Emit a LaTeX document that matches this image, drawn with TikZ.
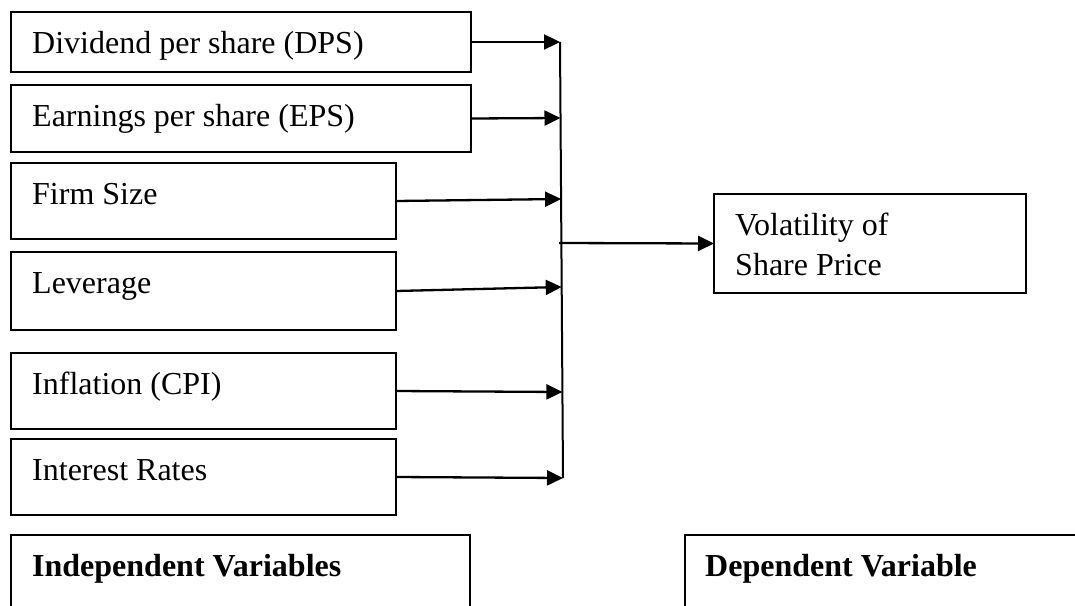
\documentclass[tikz,border=0pt]{standalone}
\usepackage{fontspec}
\setmainfont{Liberation Serif}
\usetikzlibrary{arrows.meta}
\begin{document}
\begin{tikzpicture}[x=1pt,y=-1pt,
  box/.style={draw, line width=1.8pt, rectangle, inner sep=0pt, outer sep=0pt, anchor=north west},
  lbl/.style={font=\fontsize{32}{40}\selectfont, inner sep=0pt, anchor=base west},
  blbl/.style={lbl, font=\fontsize{32}{40}\selectfont\bfseries},
  conn/.style={line width=2.3pt, -{Triangle[length=16pt,width=15pt]}},
  bus/.style={line width=2pt},
  ]
\clip (0,0) rectangle (1075,605);
\useasboundingbox (0,0) rectangle (1075,605);

% boxes
\node[box, minimum width=460pt, minimum height=60pt] (dps) at (11,12) {};
\node[box, minimum width=460pt, minimum height=67pt] (eps) at (11,85) {};
\node[box, minimum width=385pt, minimum height=76pt] (firm) at (11,163) {};
\node[box, minimum width=385pt, minimum height=78pt] (lev) at (11,252) {};
\node[box, minimum width=385pt, minimum height=76pt] (infl) at (11,353) {};
\node[box, minimum width=385pt, minimum height=76pt] (intr) at (11,439) {};
\node[box, minimum width=459pt, minimum height=120pt] (indep) at (11,535) {};
\node[box, minimum width=450pt, minimum height=120pt] (dep) at (685,535) {};
\node[box, minimum width=312pt, minimum height=99pt] (vol) at (714,194) {};

% labels
\node[lbl] (dpsT) at (32,53) {Dividend per share (DPS)};
\node[lbl] (epsT) at (32,126) {Earnings per share (EPS)};
\node[lbl] (firmT) at (32,204) {Firm Size};
\node[lbl] (levT) at (32,293) {Leverage};
\node[lbl] (inflT) at (32,394) {Inflation (CPI)};
\node[lbl] (intrT) at (32,480) {Interest Rates};
\node[blbl] (indepT) at (32,576) {Independent Variables};
\node[blbl] (depT) at (705,576) {Dependent Variable};
\node[lbl] (vol1) at (735,235) {Volatility of};
\node[lbl] (vol2) at (735,275) {Share Price};

% junction points on the collector line
\coordinate (j1) at (560,42);
\coordinate (j2) at (560.5,118);
\coordinate (j3) at (561.1,199);
\coordinate (j4) at (561.7,287);
\coordinate (j5) at (562.4,392);
\coordinate (j6) at (563,478);
\coordinate (jm) at (559,243);

\draw[bus] (j1) -- (j6);
\draw[conn] (dps.east) -- (j1);
\draw[conn] (eps.east) -- (j2);
\draw[conn] (firm.east) -- (j3);
\draw[conn] (lev.east) -- (j4);
\draw[conn] (infl.east) -- (j5);
\draw[conn] (intr.east) -- (j6);
\draw[conn] (jm) -- (vol.west);
\end{tikzpicture}
\end{document}
